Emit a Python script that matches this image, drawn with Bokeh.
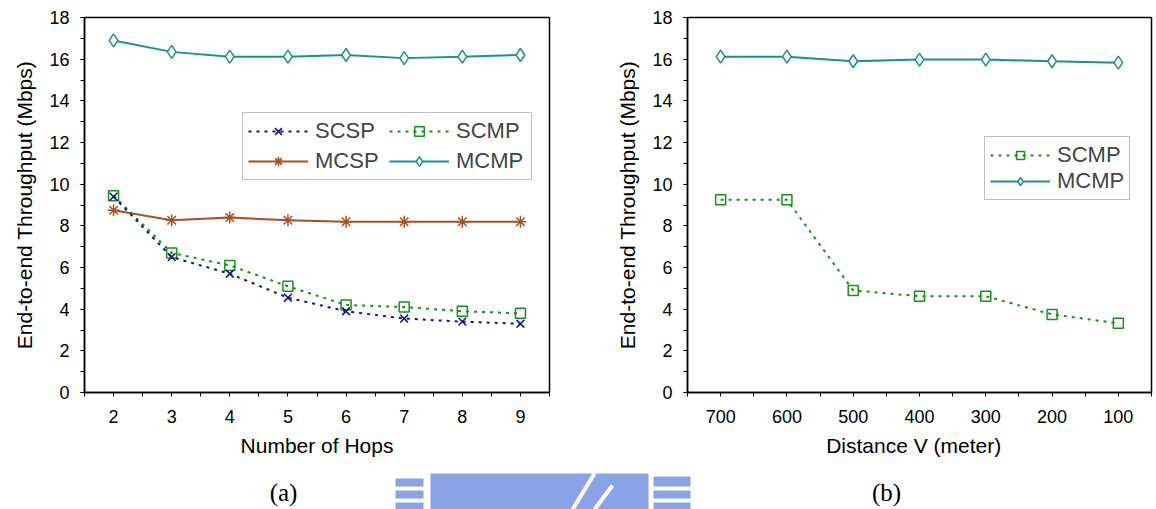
from bokeh.plotting import figure
from bokeh.models import Range1d, FixedTicker, Legend, LegendItem
from bokeh.layouts import column, row
from bokeh.core.properties import value
from bokeh.embed import file_html
from bokeh.resources import INLINE

# ---- data (a) ----
hops = [2, 3, 4, 5, 6, 7, 8, 9]
scsp_a = [9.4, 6.5, 5.7, 4.55, 3.9, 3.55, 3.4, 3.3]
scmp_a = [9.45, 6.7, 6.1, 5.1, 4.2, 4.1, 3.9, 3.8]
mcsp_a = [8.75, 8.27, 8.4, 8.27, 8.2, 8.2, 8.2, 8.2]
mcmp_a = [16.9, 16.35, 16.12, 16.12, 16.2, 16.05, 16.12, 16.2]

# ---- data (b) ----
distance = [700, 600, 500, 400, 300, 200, 100]
scmp_b = [9.25, 9.25, 4.9, 4.62, 4.62, 3.75, 3.32]
mcmp_b = [16.12, 16.12, 15.9, 15.98, 15.98, 15.9, 15.83]

y_ticks = [0, 2, 4, 6, 8, 10, 12, 14, 16, 18]
y_minor = list(range(0, 19))
panel_labels = ["(a)", "(b)"]

C_SCSP = "#12128f"
C_SCMP = "#149414"
C_MCSP = "#a9501f"
C_MCMP = "#1f9090"
FONT = "Liberation Sans"


def style(p):
    p.outline_line_color = "black"
    p.outline_line_width = 1.5
    p.xgrid.visible = False
    p.ygrid.visible = False
    p.background_fill_color = "white"
    p.border_fill_color = "white"
    for ax in (p.xaxis[0], p.yaxis[0]):
        ax.axis_line_color = "black"
        ax.axis_line_width = 1.5
        ax.major_tick_line_color = "black"
        ax.minor_tick_line_color = "black"
        ax.major_tick_in = 0
        ax.major_tick_out = 4
        ax.minor_tick_in = 0
        ax.minor_tick_out = 4
        ax.major_label_text_font = FONT
        ax.major_label_text_font_size = "18px"
        ax.major_label_text_color = "black"
        ax.axis_label_text_font = FONT
        ax.axis_label_text_font_size = "21px"
        ax.axis_label_text_font_style = "normal"
        ax.axis_label_text_color = "black"
    p.xaxis.major_label_standoff = 13
    p.xaxis.axis_label_standoff = 8
    p.yaxis.major_label_standoff = 11
    p.yaxis.axis_label_standoff = 10
    p.yaxis.ticker = FixedTicker(ticks=y_ticks, minor_ticks=y_minor)
    p.yaxis.axis_label = "End-to-end Throughput (Mbps)"


def series(p, x, y, color, dash, marker, size, fill):
    lr = p.line(x, y, line_color=color, line_width=2, line_dash=dash)
    sr = p.scatter(x, y, marker=marker, size=size, line_color=color,
                   line_width=1.5, fill_color=fill)
    return [lr, sr]


# ---- panel (a) ----
pa = figure(frame_width=465, frame_height=375, min_border_left=84,
            min_border_right=31, min_border_top=17, min_border_bottom=76,
            output_backend="svg", toolbar_location=None,
            x_range=Range1d(1.5, 9.5), y_range=Range1d(0, 18))
style(pa)
pa.xaxis.ticker = FixedTicker(ticks=hops, minor_ticks=[h - 0.5 for h in hops] + [hops[-1] + 0.5])
pa.xaxis.axis_label = "Number of Hops"

r_mcmp_a = series(pa, hops, mcmp_a, C_MCMP, "solid", "diamond", 13, "white")
r_mcsp_a = series(pa, hops, mcsp_a, C_MCSP, "solid", "asterisk", 12, None)
r_scmp_a = series(pa, hops, scmp_a, C_SCMP, "3 5", "square", 10, None)
r_scsp_a = series(pa, hops, scsp_a, C_SCSP, "3 5", "x", 11, None)

leg_a = Legend(items=[LegendItem(label="SCSP", renderers=r_scsp_a),
                      LegendItem(label="SCMP", renderers=r_scmp_a),
                      LegendItem(label="MCSP", renderers=r_mcsp_a),
                      LegendItem(label="MCMP", renderers=r_mcmp_a)],
               orientation="horizontal", ncols=2, location=(158, 212),
               glyph_width=60, glyph_height=24, label_height=24,
               label_width=70, label_standoff=7, spacing=4, padding=5,
               label_text_font=FONT, label_text_font_size="22px",
               border_line_color="#808080", border_line_width=1.5,
               background_fill_alpha=1.0)
pa.add_layout(leg_a, "center")

# ---- panel (b) ----
pb = figure(frame_width=464, frame_height=375, min_border_left=107,
            min_border_right=5, min_border_top=17, min_border_bottom=76,
            output_backend="svg", toolbar_location=None,
            x_range=Range1d(750, 50), y_range=Range1d(0, 18))
style(pb)
pb.xaxis.ticker = FixedTicker(ticks=distance, minor_ticks=[d + 50 for d in distance] + [distance[-1] - 50])
pb.xaxis.axis_label = "Distance  V  (meter)"

r_mcmp_b = series(pb, distance, mcmp_b, C_MCMP, "solid", "diamond", 13, "white")
r_scmp_b = series(pb, distance, scmp_b, C_SCMP, "3 5", "square", 10, None)

leg_b = Legend(items=[LegendItem(label="SCMP", renderers=r_scmp_b),
                      LegendItem(label="MCMP", renderers=r_mcmp_b)],
               orientation="vertical", location=(297, 192),
               glyph_width=60, glyph_height=20, label_height=20,
               label_standoff=7, spacing=0, padding=5,
               label_text_font=FONT, label_text_font_size="22px",
               label_text_line_height=0.8,
               border_line_color="#808080", border_line_width=1.5,
               background_fill_alpha=1.0)
pb.add_layout(leg_b, "center")

# ---- bottom strip: sub-captions and faint watermark ----
strip = figure(width=1156, height=41, min_border=0, output_backend="svg",
               toolbar_location=None, x_range=Range1d(0, 1156),
               y_range=Range1d(509, 468))
strip.axis.visible = False
strip.grid.visible = False
strip.outline_line_color = None
wm_color = "#8aa2e6"
strip.quad(left=[395, 395, 395, 430, 653, 653, 653],
           right=[423, 423, 423, 648, 690, 690, 690],
           top=[478, 490, 502, 473, 476, 490, 502],
           bottom=[486, 498, 509, 509, 486, 498, 509],
           fill_color=wm_color, line_color=None)
strip.segment(x0=[594, 612], y0=[473, 485], x1=[572, 594], y1=[509, 509],
              line_color="white", line_width=4)
strip.text(x=[283, 886], y=[492, 492], text=panel_labels,
           text_font=value("Liberation Serif"), text_font_size="25px",
           text_align="center", text_baseline="middle", text_color="black")

layout = column(row(pa, pb), strip)
open("out.html", "w").write(file_html(layout, INLINE))
